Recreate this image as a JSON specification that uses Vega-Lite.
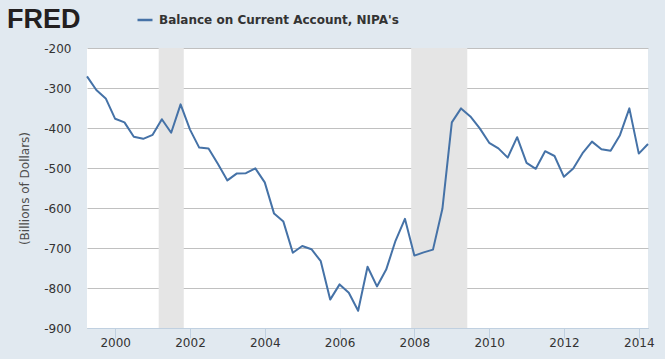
{
  "$schema": "https://vega.github.io/schema/vega-lite/v6.json",
  "width": 561,
  "height": 280,
  "autosize": {"type": "none"},
  "padding": {"left": 87, "top": 48, "right": 17, "bottom": 31},
  "background": "#E1E9F0",
  "title": {
    "text": "FRED",
    "anchor": "start",
    "frame": "group",
    "dx": -80,
    "offset": 0,
    "dy": 23,
    "font": "Liberation Sans",
    "fontSize": 27,
    "fontWeight": "bold",
    "color": "#231F20"
  },
  "config": {
    "view": {"fill": "white", "stroke": null},
    "font": "DejaVu Sans"
  },
  "datasets": {
    "rec": [
      {"start": "2001-03-01", "end": "2001-11-01"},
      {"start": "2007-12-01", "end": "2009-06-01"}
    ],
    "series": [
      {"date": "1999-04-01", "value": -271, "name": "Balance on Current Account, NIPA's"},
      {"date": "1999-07-01", "value": -305, "name": "Balance on Current Account, NIPA's"},
      {"date": "1999-10-01", "value": -326, "name": "Balance on Current Account, NIPA's"},
      {"date": "2000-01-01", "value": -377, "name": "Balance on Current Account, NIPA's"},
      {"date": "2000-04-01", "value": -386, "name": "Balance on Current Account, NIPA's"},
      {"date": "2000-07-01", "value": -422, "name": "Balance on Current Account, NIPA's"},
      {"date": "2000-10-01", "value": -427, "name": "Balance on Current Account, NIPA's"},
      {"date": "2001-01-01", "value": -417, "name": "Balance on Current Account, NIPA's"},
      {"date": "2001-04-01", "value": -378, "name": "Balance on Current Account, NIPA's"},
      {"date": "2001-07-01", "value": -412, "name": "Balance on Current Account, NIPA's"},
      {"date": "2001-10-01", "value": -341, "name": "Balance on Current Account, NIPA's"},
      {"date": "2002-01-01", "value": -404, "name": "Balance on Current Account, NIPA's"},
      {"date": "2002-04-01", "value": -449, "name": "Balance on Current Account, NIPA's"},
      {"date": "2002-07-01", "value": -451, "name": "Balance on Current Account, NIPA's"},
      {"date": "2002-10-01", "value": -490, "name": "Balance on Current Account, NIPA's"},
      {"date": "2003-01-01", "value": -531, "name": "Balance on Current Account, NIPA's"},
      {"date": "2003-04-01", "value": -514, "name": "Balance on Current Account, NIPA's"},
      {"date": "2003-07-01", "value": -513, "name": "Balance on Current Account, NIPA's"},
      {"date": "2003-10-01", "value": -501, "name": "Balance on Current Account, NIPA's"},
      {"date": "2004-01-01", "value": -536, "name": "Balance on Current Account, NIPA's"},
      {"date": "2004-04-01", "value": -614, "name": "Balance on Current Account, NIPA's"},
      {"date": "2004-07-01", "value": -634, "name": "Balance on Current Account, NIPA's"},
      {"date": "2004-10-01", "value": -712, "name": "Balance on Current Account, NIPA's"},
      {"date": "2005-01-01", "value": -695, "name": "Balance on Current Account, NIPA's"},
      {"date": "2005-04-01", "value": -703, "name": "Balance on Current Account, NIPA's"},
      {"date": "2005-07-01", "value": -733, "name": "Balance on Current Account, NIPA's"},
      {"date": "2005-10-01", "value": -829, "name": "Balance on Current Account, NIPA's"},
      {"date": "2006-01-01", "value": -791, "name": "Balance on Current Account, NIPA's"},
      {"date": "2006-04-01", "value": -812, "name": "Balance on Current Account, NIPA's"},
      {"date": "2006-07-01", "value": -857, "name": "Balance on Current Account, NIPA's"},
      {"date": "2006-10-01", "value": -747, "name": "Balance on Current Account, NIPA's"},
      {"date": "2007-01-01", "value": -796, "name": "Balance on Current Account, NIPA's"},
      {"date": "2007-04-01", "value": -754, "name": "Balance on Current Account, NIPA's"},
      {"date": "2007-07-01", "value": -682, "name": "Balance on Current Account, NIPA's"},
      {"date": "2007-10-01", "value": -627, "name": "Balance on Current Account, NIPA's"},
      {"date": "2008-01-01", "value": -719, "name": "Balance on Current Account, NIPA's"},
      {"date": "2008-04-01", "value": -711, "name": "Balance on Current Account, NIPA's"},
      {"date": "2008-07-01", "value": -704, "name": "Balance on Current Account, NIPA's"},
      {"date": "2008-10-01", "value": -602, "name": "Balance on Current Account, NIPA's"},
      {"date": "2009-01-01", "value": -386, "name": "Balance on Current Account, NIPA's"},
      {"date": "2009-04-01", "value": -351, "name": "Balance on Current Account, NIPA's"},
      {"date": "2009-07-01", "value": -371, "name": "Balance on Current Account, NIPA's"},
      {"date": "2009-10-01", "value": -401, "name": "Balance on Current Account, NIPA's"},
      {"date": "2010-01-01", "value": -437, "name": "Balance on Current Account, NIPA's"},
      {"date": "2010-04-01", "value": -451, "name": "Balance on Current Account, NIPA's"},
      {"date": "2010-07-01", "value": -474, "name": "Balance on Current Account, NIPA's"},
      {"date": "2010-10-01", "value": -423, "name": "Balance on Current Account, NIPA's"},
      {"date": "2011-01-01", "value": -487, "name": "Balance on Current Account, NIPA's"},
      {"date": "2011-04-01", "value": -502, "name": "Balance on Current Account, NIPA's"},
      {"date": "2011-07-01", "value": -458, "name": "Balance on Current Account, NIPA's"},
      {"date": "2011-10-01", "value": -470, "name": "Balance on Current Account, NIPA's"},
      {"date": "2012-01-01", "value": -522, "name": "Balance on Current Account, NIPA's"},
      {"date": "2012-04-01", "value": -501, "name": "Balance on Current Account, NIPA's"},
      {"date": "2012-07-01", "value": -463, "name": "Balance on Current Account, NIPA's"},
      {"date": "2012-10-01", "value": -434, "name": "Balance on Current Account, NIPA's"},
      {"date": "2013-01-01", "value": -453, "name": "Balance on Current Account, NIPA's"},
      {"date": "2013-04-01", "value": -457, "name": "Balance on Current Account, NIPA's"},
      {"date": "2013-07-01", "value": -418, "name": "Balance on Current Account, NIPA's"},
      {"date": "2013-10-01", "value": -351, "name": "Balance on Current Account, NIPA's"},
      {"date": "2014-01-01", "value": -464, "name": "Balance on Current Account, NIPA's"},
      {"date": "2014-04-01", "value": -440, "name": "Balance on Current Account, NIPA's"}
    ]
  },
  "layer": [
    {
      "data": {"name": "rec"},
      "mark": {"type": "rect", "color": "#E5E5E5"},
      "encoding": {
        "x": {"field": "start", "type": "temporal"},
        "x2": {"field": "end"}
      }
    },
    {
      "data": {"name": "series"},
      "mark": {"type": "line", "strokeWidth": 2, "strokeJoin": "round"},
      "encoding": {
        "x": {
          "field": "date",
          "type": "temporal",
          "scale": {"type": "utc", "domain": ["1999-04-01", "2014-04-01"], "nice": false},
          "axis": {
            "title": null,
            "format": "%Y",
            "tickCount": {"interval": "year", "step": 2},
            "grid": false,
            "domainColor": "#C0D0E0",
            "tickColor": "#C0D0E0",
            "tickSize": 10,
            "labelPadding": -1,
            "labelFontSize": 12,
            "labelColor": "#333333",
            "labelFont": "DejaVu Sans"
          }
        },
        "y": {
          "field": "value",
          "type": "quantitative",
          "scale": {"domain": [-900, -200], "nice": false},
          "axis": {
            "title": "(Billions of Dollars)",
            "titleFont": "DejaVu Sans",
            "titleFontSize": 12,
            "titleFontWeight": "normal",
            "titleColor": "#4D4D4D",
            "titlePadding": 12,
            "values": [-900, -800, -700, -600, -500, -400, -300, -200],
            "labelExpr": "toString(datum.value)",
            "domain": false,
            "ticks": false,
            "labelPadding": 16,
            "labelFontSize": 12,
            "labelColor": "#333333",
            "labelFont": "DejaVu Sans",
            "gridColor": "#C0C0C0"
          }
        },
        "color": {
          "field": "name",
          "type": "nominal",
          "scale": {"range": ["#4572A7"]},
          "legend": {
            "title": null,
            "orient": "none",
            "legendX": 49,
            "legendY": -37,
            "symbolType": "stroke",
            "symbolSize": 225,
            "symbolStrokeWidth": 2.5,
            "labelFont": "DejaVu Sans",
            "labelFontSize": 12,
            "labelFontWeight": "bold",
            "labelColor": "#333333",
            "labelOffset": 5,
            "labelLimit": 0,
            "padding": 0
          }
        }
      }
    }
  ]
}
